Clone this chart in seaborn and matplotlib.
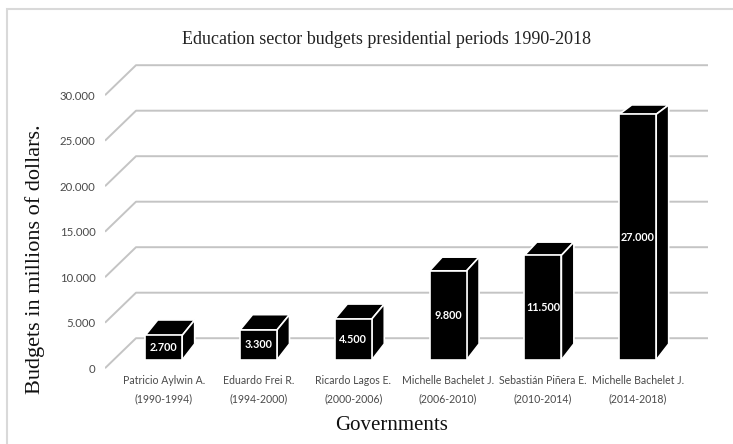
import matplotlib
matplotlib.use("Agg")
import matplotlib.pyplot as plt
from matplotlib.patches import Polygon, Rectangle
import seaborn as sns

# --- data ---
governments = ["Patricio Aylwin A.", "Eduardo Frei R.", "Ricardo Lagos E.",
               "Michelle Bachelet J.", "Sebastián Piñera E.", "Michelle Bachelet J."]
periods = ["(1990-1994)", "(1994-2000)", "(2000-2006)",
           "(2006-2010)", "(2010-2014)", "(2014-2018)"]
budgets = [2700, 3300, 4500, 9800, 11500, 27000]
y_ticks = [0, 5000, 10000, 15000, 20000, 25000, 30000]


def fmt(v):
    # thousands separated by a dot
    return f"{v:,.0f}".replace(",", ".")


sns.set_theme(style="white")
plt.rcParams["font.family"] = ["Lato", "DejaVu Sans"]

W, H = 733, 444
fig = plt.figure(figsize=(W / 100, H / 100), dpi=100)

# pixel layout of the bars' front plane
BASE_PX, V_PX, CAT0_PX, CAT_PX = 360, 0.0091, 163.7, 94.8
ax_l, ax_r, ax_t, ax_b = 105, 712, 50, 374
ax = fig.add_axes([ax_l / W, (H - ax_b) / H, (ax_r - ax_l) / W, (ax_b - ax_t) / H])

labels = [f"{g}\n{p}" for g, p in zip(governments, periods)]
sns.barplot(x=labels, y=budgets, color="black", saturation=1, width=0.39,
            edgecolor="white", linewidth=1.2, ax=ax)

xlim = ((ax_l - CAT0_PX) / CAT_PX, (ax_r - CAT0_PX) / CAT_PX)
ylim = ((BASE_PX - ax_b) / V_PX, (BASE_PX - ax_t) / V_PX)
ax.set_xlim(xlim)
ax.set_ylim(ylim)


def shift(x, v, dx, dy):
    # move a data point by some pixels (display space, y up)
    px, py = ax.transData.transform((x, v))
    return ax.transData.inverted().transform((px + dx, py + dy))


# floor / wall gridlines in perspective
FRONT_DY, WALL_DX, WALL_DY, RIGHT_PX = -8.2, 31, 30, 708
x_right = (RIGHT_PX - CAT0_PX) / CAT_PX
tick_pos = []
for t in y_ticks:
    front = shift(xlim[0], t, 0, FRONT_DY)
    back = shift(xlim[0], t, WALL_DX, FRONT_DY + WALL_DY)
    tick_pos.append(front[1])
    ax.plot([front[0], back[0], x_right], [front[1], back[1], back[1]],
            color="#c4c4c4", lw=1.4, zorder=0.5, solid_capstyle="butt")

ax.set_yticks(tick_pos, [fmt(t) for t in y_ticks])
ax.set_xlim(xlim)
ax.set_ylim(ylim)


def depth_dy(v):
    # receding faces look flatter higher up the chart
    py_top = H - ax.transData.transform((0, v))[1]
    return 6.2 + 0.0276 * py_top


BAR_DX = 12.5
for p in ax.patches:
    p.set_zorder(3)
    x0, w, h = p.get_x(), p.get_width(), p.get_height()
    dyt, dyb = depth_dy(h), depth_dy(0)
    ftl, ftr, fbr = (x0, h), (x0 + w, h), (x0 + w, 0)
    btl = shift(x0, h, BAR_DX, dyt)
    btr = shift(x0 + w, h, BAR_DX, dyt)
    bbr = shift(x0 + w, 0, BAR_DX, dyb)
    for pts in ([ftl, ftr, btr, btl], [fbr, ftr, btr, bbr]):
        ax.add_patch(Polygon(pts, closed=True, facecolor="black",
                             edgecolor="white", lw=1.2, zorder=2))

ax.bar_label(ax.containers[0], labels=[fmt(v) for v in budgets],
             label_type="center", color="white", fontsize=7.8,
             fontweight="bold", zorder=5)

ax.tick_params(axis="y", length=0, pad=6.8, labelsize=8.2, labelcolor="#4a4a4a")
ax.tick_params(axis="x", length=0, pad=1.0, labelsize=7.6, labelcolor="#4a4a4a")
for lbl in ax.get_xticklabels():
    lbl.set_linespacing(1.75)
for s in ax.spines.values():
    s.set_visible(False)
ax.grid(False)
ax.set_xlabel("")
ax.set_ylabel("")
ax.patch.set_alpha(0)

serif = ["Liberation Serif", "DejaVu Serif"]
fig.text(387 / W, 1 - 40 / H, "Education sector budgets presidential periods 1990-2018",
         ha="center", va="center", family=serif, fontsize=13, color="#222222")
fig.text(392 / W, 1 - 425 / H, "Governments", ha="center", va="center",
         family=serif, fontsize=15, color="#111111")
fig.text(35 / W, 1 - 259 / H, "Budgets in millions of dollars.", ha="center",
         va="center", rotation=90, family=serif, fontsize=16, color="#111111")

# thin outer frame (cut off at right and bottom)
fig.add_artist(Rectangle((7 / W, -0.1), 1.2, 1.1 - 9 / H, transform=fig.transFigure,
                         fill=False, edgecolor="#d9d9d9", lw=1.5))

fig.savefig("out.png", dpi=100)
